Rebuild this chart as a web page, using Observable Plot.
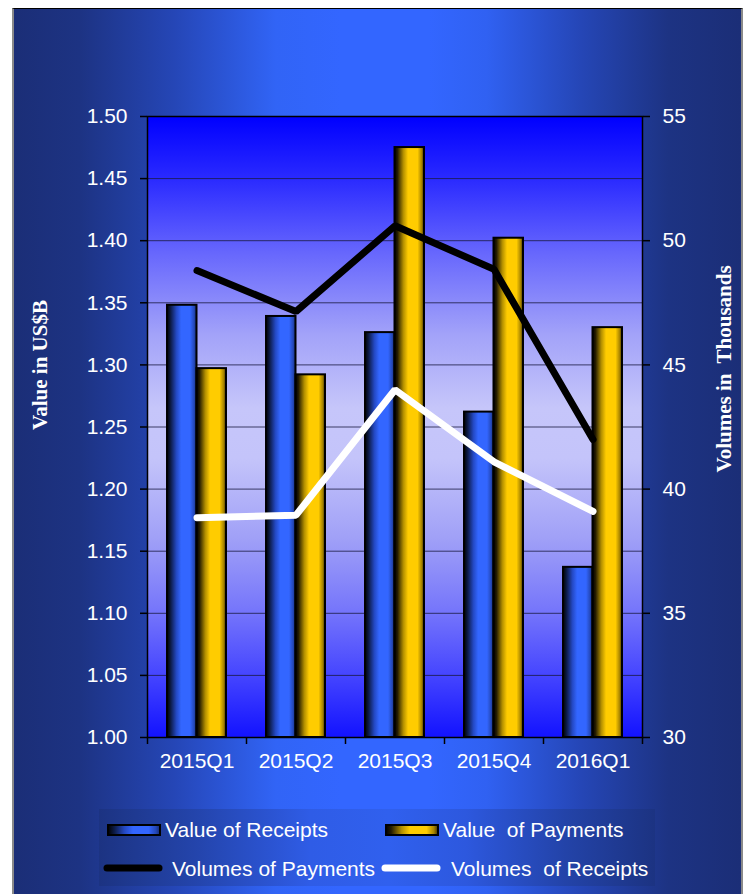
<!DOCTYPE html>
<html>
<head>
<meta charset="utf-8">
<script src="https://cdn.jsdelivr.net/npm/d3@7"></script>
<script src="https://cdn.jsdelivr.net/npm/@observablehq/plot@0.6"></script>
<style>
  html, body { margin: 0; padding: 0; background: #fff; overflow: hidden; }
  #page { position: relative; width: 745px; height: 894px; overflow: hidden; }
  #panel {
    position: absolute; left: 12px; top: 8px; width: 727px; height: 900px;
    border-left: 2px solid #8a8a8a; border-right: 2px solid #8a8a8a; border-top: 1px solid #000;
    background: linear-gradient(to right, #1b2e77 0%, #1d3383 9%, #2546b6 22%, #3164f6 36%, #3366ff 45%, #3366ff 57%, #3061f2 65%, #2546b6 78%, #1d3383 90%, #1b2e77 100%);
  }
  #chart { position: absolute; left: 0; top: 0; }
  #chart svg { overflow: visible; }
  #legend {
    position: absolute; left: 99px; top: 809px; width: 556px; height: 77px;
    background: linear-gradient(to right, #1c3382 0%, #2445ad 18%, #2f5ce6 38%, #3060ee 52%, #2d58de 66%, #2343a8 84%, #1c3382 100%);
    font-family: "Liberation Sans", Arial, sans-serif; font-size: 21px; color: #fff;
  }
  .item { position: absolute; white-space: pre; line-height: 1; }
  .sw { position: absolute; }
</style>
</head>
<body>
<div id="page">
  <div id="panel"></div>
  <div id="chart"></div>
  <div id="legend">
    <svg class="sw" style="left:8px;top:15px" width="54" height="12"><rect x="1" y="1" width="52" height="10" fill="url(#gradReceipts)" stroke="#000" stroke-width="2"/></svg>
    <div class="item" style="left:66px;top:10px">Value of Receipts</div>
    <svg class="sw" style="left:286px;top:15px" width="54" height="12"><rect x="1" y="1" width="52" height="10" fill="url(#gradPayments)" stroke="#000" stroke-width="2"/></svg>
    <div class="item" style="left:344px;top:10px">Value  of Payments</div>
    <svg class="sw" style="left:4px;top:54px" width="60" height="10"><line x1="4" y1="5" x2="56" y2="5" stroke="#000" stroke-width="7" stroke-linecap="round"/></svg>
    <div class="item" style="left:73px;top:49px">Volumes of Payments</div>
    <svg class="sw" style="left:282px;top:54px" width="60" height="10"><line x1="4" y1="5" x2="56" y2="5" stroke="#fff" stroke-width="7" stroke-linecap="round"/></svg>
    <div class="item" style="left:352px;top:49px">Volumes  of Receipts</div>
  </div>
</div>

<!-- shared paint servers for bars, legend swatches and the plot background -->
<svg width="0" height="0" style="position:absolute">
  <defs>
    <linearGradient id="gradReceipts" x1="0" y1="0" x2="1" y2="0">
      <stop offset="0" stop-color="#000000"/>
      <stop offset="0.12" stop-color="#0c1a45"/>
      <stop offset="0.32" stop-color="#2449c4"/>
      <stop offset="0.48" stop-color="#3366ff"/>
      <stop offset="0.78" stop-color="#3366ff"/>
      <stop offset="0.92" stop-color="#2448b8"/>
      <stop offset="1" stop-color="#15296e"/>
    </linearGradient>
    <linearGradient id="gradPayments" x1="0" y1="0" x2="1" y2="0">
      <stop offset="0" stop-color="#000000"/>
      <stop offset="0.1" stop-color="#241b00"/>
      <stop offset="0.3" stop-color="#b38f00"/>
      <stop offset="0.46" stop-color="#ffcc00"/>
      <stop offset="0.78" stop-color="#ffcc00"/>
      <stop offset="0.92" stop-color="#a88400"/>
      <stop offset="1" stop-color="#3d3000"/>
    </linearGradient>
    <linearGradient id="plotBg" x1="0" y1="0" x2="0" y2="1">
      <stop offset="0" stop-color="#0000ff"/>
      <stop offset="0.1" stop-color="#2a2aff"/>
      <stop offset="0.22" stop-color="#6767fd"/>
      <stop offset="0.35" stop-color="#a2a2f9"/>
      <stop offset="0.47" stop-color="#c6c6fa"/>
      <stop offset="0.55" stop-color="#c4c4fa"/>
      <stop offset="0.68" stop-color="#a0a0f7"/>
      <stop offset="0.8" stop-color="#7474fb"/>
      <stop offset="0.9" stop-color="#4545ff"/>
      <stop offset="1" stop-color="#1212ff"/>
    </linearGradient>
  </defs>
</svg>

<script>
// Quarterly values (US$ billions) and volumes (thousands)
const quarters = ["2015Q1", "2015Q2", "2015Q3", "2015Q4", "2016Q1"];
const valueReceipts = [1.348, 1.339, 1.326, 1.262, 1.137];
const valuePayments = [1.297, 1.292, 1.475, 1.402, 1.330];
const volumePayments = [48.8, 47.15, 50.6, 48.85, 42.0];
const volumeReceipts = [38.85, 38.95, 44.0, 41.1, 39.1];

// Axis ticks
const valueTicks = [1.00, 1.05, 1.10, 1.15, 1.20, 1.25, 1.30, 1.35, 1.40, 1.45, 1.50];
const volumeTicks = [30, 35, 40, 45, 50, 55];

const rows = quarters.map((q, i) => ({
  quarter: q,
  receipts: valueReceipts[i],
  payments: valuePayments[i],
  volPayments: volumePayments[i],
  volReceipts: volumeReceipts[i]
}));

// Secondary (volume) axis mapped onto the value scale: 30..55 ↔ 1.00..1.50
const volToValue = v => 1 + (v - 30) * 0.02;
const valueToVol = y => 30 + (y - 1) / 0.02;

const W = 745, H = 800;
const mL = 147, mR = 103, mT = 116, mB = 63;
const step = (W - mL - mR) / quarters.length;
const barW = 29.5;

const font = "'Liberation Sans', Arial, sans-serif";
const titleFont = "'Liberation Serif', 'Times New Roman', serif";

const chart = Plot.plot({
  width: W,
  height: H,
  marginLeft: mL,
  marginRight: mR,
  marginTop: mT,
  marginBottom: mB,
  style: {background: "transparent", fontFamily: font, fontSize: "21px", color: "white"},
  x: {domain: quarters, paddingInner: 1 - (2 * barW) / step, paddingOuter: (1 - (2 * barW) / step) / 2},
  y: {domain: [1, 1.5]},
  marks: [
    Plot.frame({fill: "url(#plotBg)", stroke: "none"}),
    Plot.ruleY(valueTicks, {y: d => d, stroke: "#1a1a40", strokeOpacity: 0.8, strokeWidth: 1}),
    Plot.barY(rows, {x: "quarter", y1: 1, y2: "receipts", insetRight: barW, fill: "url(#gradReceipts)", stroke: "black", strokeWidth: 2}),
    Plot.barY(rows, {x: "quarter", y1: 1, y2: "payments", insetLeft: barW, fill: "url(#gradPayments)", stroke: "black", strokeWidth: 2}),
    Plot.line(rows, {x: "quarter", y: d => volToValue(d.volPayments), stroke: "black", strokeWidth: 7, strokeLinecap: "round", strokeLinejoin: "miter"}),
    Plot.line(rows, {x: "quarter", y: d => volToValue(d.volReceipts), stroke: "white", strokeWidth: 7, strokeLinecap: "round", strokeLinejoin: "miter"}),
    Plot.frame({stroke: "black", strokeWidth: 1.5}),
    // category separators below the baseline
    Plot.ruleX(quarters, {x: d => d, y1: 1, y2: 1, dx: -step / 2, insetBottom: -7, stroke: "black", strokeWidth: 1.5}),
    Plot.ruleX(quarters.slice(-1), {x: d => d, y1: 1, y2: 1, dx: step / 2, insetBottom: -7, stroke: "black", strokeWidth: 1.5}),
    Plot.axisX({tickSize: 0, tickPadding: 16, fill: "white", label: null, fontSize: 21}),
    Plot.axisY(valueTicks, {anchor: "left", tickSize: 7, tickPadding: 13, stroke: "black", strokeWidth: 1.5, fill: "white", tickFormat: d3.format(".2f"), label: null, fontSize: 21}),
    Plot.axisY(volumeTicks.map(volToValue), {anchor: "right", tickSize: 7, tickPadding: 13, stroke: "black", strokeWidth: 1.5, fill: "white", tickFormat: y => String(Math.round(valueToVol(y))), label: null, fontSize: 21}),
    Plot.text(["Value in US$B"], {text: d => d, frameAnchor: "left", textAnchor: "middle", dx: -107, dy: -62, rotate: -90, fill: "white", fontFamily: titleFont, fontWeight: "bold", fontSize: 21}),
    Plot.text(["Volumes in\u00a0 Thousands"], {text: d => d, frameAnchor: "right", textAnchor: "middle", dx: 82, dy: -58, rotate: -90, fill: "white", fontFamily: titleFont, fontWeight: "bold", fontSize: 21})
  ]
});

document.getElementById("chart").appendChild(chart);
</script>
</body>
</html>
